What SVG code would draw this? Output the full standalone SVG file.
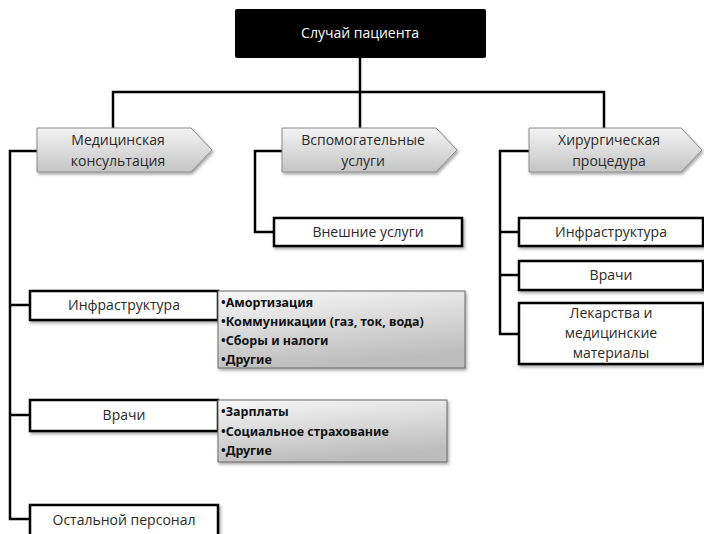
<svg xmlns="http://www.w3.org/2000/svg" width="704" height="534" viewBox="0 0 704 534">
<defs>
<linearGradient id="pg" x1="0" y1="0" x2="0" y2="1">
<stop offset="0" stop-color="#f4f4f4"/><stop offset="1" stop-color="#c4c4c4"/>
</linearGradient>
<linearGradient id="bg" x1="0" y1="0" x2="0.3" y2="1">
<stop offset="0" stop-color="#f8f8f8"/><stop offset="1" stop-color="#bdbdbd"/>
</linearGradient>
<filter id="sh" x="-10%" y="-20%" width="130%" height="150%">
<feDropShadow dx="1.5" dy="2" stdDeviation="1.5" flood-color="#000" flood-opacity="0.35"/>
</filter>
</defs>
<style>
text{font-family:"Open Sans","Noto Sans","Liberation Sans",sans-serif;font-size:14px;fill:#2a2a2a}
.c{text-anchor:middle}
.b{font-family:"Noto Sans","Liberation Sans",sans-serif;font-weight:bold;font-size:12.5px;fill:#111}
.box{fill:#fff;stroke:#000;stroke-width:2.5;filter:url(#sh)}
.pent{fill:url(#pg);stroke:#8a8a8a;stroke-width:1;filter:url(#sh)}
.list{fill:url(#bg);stroke:#666;stroke-width:1;filter:url(#sh)}
.ln{fill:none;stroke:#000;stroke-width:2.5}
</style>
<rect width="704" height="534" fill="#fff"/>
<g id="connectors">
<path class="ln" d="M360 58V128M113 128V92H604V128"/>
<path class="ln" d="M37 151H10V519H30M10 305H30M10 415H30"/>
<path class="ln" d="M282 151H255V232H274"/>
<path class="ln" d="M529 151H500V334H519M500 232H519M500 275H519"/>
</g>
<g id="root">
<rect x="235" y="9" width="251" height="49" rx="2" fill="#000"/>
<text x="360" y="38" class="c" style="fill:#fff">Случай пациента</text>
</g>
<g id="med">
<path class="pent" d="M37 128H191L212 150L191 172H37Z"/>
<text x="118" y="145" class="c">Медицинская</text>
<text x="118" y="166" class="c">консультация</text>
</g>
<g id="aux">
<path class="pent" d="M282 128H436L457 150L436 172H282Z"/>
<text x="363" y="145" class="c">Вспомогательные</text>
<text x="363" y="166" class="c">услуги</text>
</g>
<g id="surg">
<path class="pent" d="M529 128H681L702 150L681 172H529Z"/>
<text x="609" y="145" class="c">Хирургическая</text>
<text x="609" y="166" class="c">процедура</text>
</g>
<g id="ext">
<rect class="box" x="274" y="218" width="188" height="28"/>
<text x="368" y="237" class="c">Внешние услуги</text>
</g>
<g id="infra1">
<rect class="box" x="30" y="291" width="188" height="29"/>
<text x="124" y="310" class="c">Инфраструктура</text>
</g>
<g id="infra1list">
<rect class="list" x="218" y="291" width="247" height="77"/>
<text x="221" y="307" class="b">•Амортизация</text>
<text x="221" y="326" class="b">•Коммуникации (газ, ток, вода)</text>
<text x="221" y="345" class="b">•Сборы и налоги</text>
<text x="221" y="364" class="b">•Другие</text>
</g>
<g id="doc1">
<rect class="box" x="30" y="400" width="188" height="31"/>
<text x="124" y="420" class="c">Врачи</text>
</g>
<g id="doc1list">
<rect class="list" x="218" y="400" width="229" height="62"/>
<text x="221" y="416" class="b">•Зарплаты</text>
<text x="221" y="436" class="b">•Социальное страхование</text>
<text x="221" y="455" class="b">•Другие</text>
</g>
<g id="staff">
<rect class="box" x="30" y="505" width="188" height="40"/>
<text x="124" y="525" class="c">Остальной персонал</text>
</g>
<g id="infra2">
<rect class="box" x="519" y="218" width="184" height="28"/>
<text x="611" y="237" class="c">Инфраструктура</text>
</g>
<g id="doc2">
<rect class="box" x="519" y="261" width="184" height="29"/>
<text x="611" y="280" class="c">Врачи</text>
</g>
<g id="meds">
<rect class="box" x="519" y="303" width="184" height="61"/>
<text x="611" y="318" class="c">Лекарства и</text>
<text x="611" y="338" class="c">медицинские</text>
<text x="611" y="358" class="c">материалы</text>
</g>
</svg>
